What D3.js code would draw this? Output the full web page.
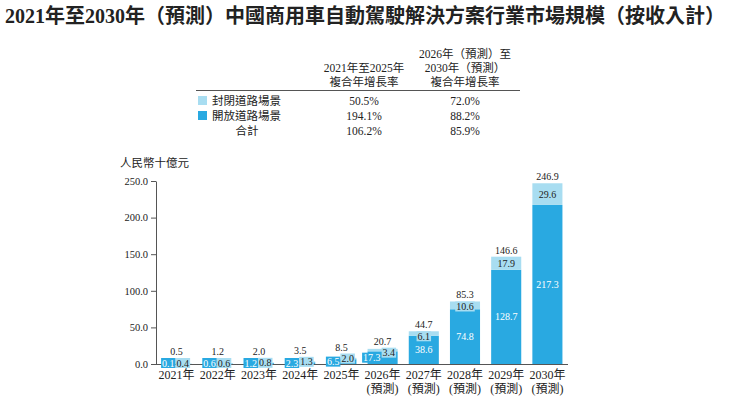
<!DOCTYPE html>
<html>
<head>
<meta charset="utf-8">
<script src="https://cdn.jsdelivr.net/npm/d3@7"></script>
<style>
  body { margin: 0; background: #fff; }
  svg text { font-family: "Liberation Serif", "Noto Sans CJK TC", serif; }
</style>
</head>
<body>
<svg id="chart" width="734" height="401"></svg>
<script>
// Chart data
const years = ["2021年", "2022年", "2023年", "2024年", "2025年", "2026年", "2027年", "2028年", "2029年", "2030年"];
const forecast = [false, false, false, false, false, true, true, true, true, true];
const openRoad = [0.1, 0.6, 1.2, 2.3, 6.5, 17.3, 38.6, 74.8, 128.7, 217.3];
const closedRoad = [0.4, 0.6, 0.8, 1.3, 2.0, 3.4, 6.1, 10.6, 17.9, 29.6];
const totals = [0.5, 1.2, 2.0, 3.5, 8.5, 20.7, 44.7, 85.3, 146.6, 246.9];
const yTicks = [0, 50, 100, 150, 200, 250];

// CAGR table
const cagrHeadA = ["2021年至2025年", "複合年增長率"];
const cagrHeadB = ["2026年（預測）至", "2030年（預測）", "複合年增長率"];
const seriesNames = ["封閉道路場景", "開放道路場景", "合計"];
const cagrA = ["50.5%", "194.1%", "106.2%"];
const cagrB = ["72.0%", "88.2%", "85.9%"];

const darkBlue = "#29a9e1";
const lightBlue = "#a8ddf1";
const axisColor = "#555";
const textColor = "#222";

const svg = d3.select("#chart");

// Title
svg.append("text")
    .attr("x", 5)
    .attr("y", 23)
    .attr("fill", textColor)
    .style("font-size", "20px")
    .style("font-weight", "bold")
    .text("2021年至2030年（預測）中國商用車自動駕駛解決方案行業市場規模（按收入計）");

// Table header
const colA = 364, colB = 465;
const table = svg.append("g").attr("fill", textColor).style("font-size", "11.5px");
cagrHeadA.forEach((t, i) => {
    table.append("text").attr("x", colA).attr("y", 72 + i * 14)
        .attr("text-anchor", "middle").text(t);
});
cagrHeadB.forEach((t, i) => {
    table.append("text").attr("x", colB).attr("y", 58 + i * 14)
        .attr("text-anchor", "middle").text(t);
});
svg.append("line")
    .attr("x1", 196).attr("x2", 520).attr("y1", 90.5).attr("y2", 90.5)
    .attr("stroke", axisColor).attr("stroke-width", 1);

// Table rows
const rowY = [105, 120, 135];
const swatch = [lightBlue, darkBlue, null];
seriesNames.forEach((name, i) => {
    if (swatch[i]) {
        table.append("rect").attr("x", 198).attr("y", rowY[i] - 9)
            .attr("width", 9).attr("height", 9).attr("fill", swatch[i]);
        table.append("text").attr("x", 212).attr("y", rowY[i]).text(name);
    } else {
        table.append("text").attr("x", 247).attr("y", rowY[i])
            .attr("text-anchor", "middle").text(name);
    }
    table.append("text").attr("x", colA).attr("y", rowY[i])
        .attr("text-anchor", "middle").text(cagrA[i]);
    table.append("text").attr("x", colB).attr("y", rowY[i])
        .attr("text-anchor", "middle").text(cagrB[i]);
});

// Scales
const x = d3.scaleBand().domain(years).range([156, 568]).paddingInner(0.27).paddingOuter(0.135);
const y = d3.scaleLinear().domain([0, 250]).range([364, 181]);

// Y axis
const yAxis = svg.append("g")
    .attr("transform", "translate(156,0)")
    .call(d3.axisLeft(y).tickValues(yTicks).tickFormat(d3.format(".1f")).tickSize(5).tickSizeOuter(0));
yAxis.select(".domain").attr("stroke", axisColor);
yAxis.selectAll(".tick line").attr("stroke", axisColor);
yAxis.selectAll(".tick text")
    .attr("fill", textColor)
    .attr("x", -8)
    .style("font-size", "10.5px")
    .style("font-family", "Liberation Serif, serif");

svg.append("text").attr("x", 120).attr("y", 167).attr("fill", textColor)
    .style("font-size", "11.5px").text("人民幣十億元");

// Bars
const data = years.map((yr, i) => ({ yr, open: openRoad[i], closed: closedRoad[i], total: totals[i], fc: forecast[i] }));

const bars = svg.append("g");
bars.selectAll(".open").data(data).join("rect")
    .attr("class", "open")
    .attr("x", d => x(d.yr)).attr("width", x.bandwidth())
    .attr("y", d => y(d.open)).attr("height", d => y(0) - y(d.open))
    .attr("fill", darkBlue);
bars.selectAll(".closed").data(data).join("rect")
    .attr("class", "closed")
    .attr("x", d => x(d.yr)).attr("width", x.bandwidth())
    .attr("y", d => y(d.open + d.closed)).attr("height", d => y(d.open) - y(d.open + d.closed))
    .attr("fill", lightBlue);

// X axis line
svg.append("line")
    .attr("x1", 152).attr("x2", 568).attr("y1", y(0) + 0.5).attr("y2", y(0) + 0.5)
    .attr("stroke", axisColor);

// Value labels
const labels = svg.append("g").style("font-size", "10px");
const fmt = d3.format(".1f");
const boxH = 10;

function boxLabel(cx, cy, txt, fill, color, anchor) {
    const t = labels.append("text").attr("y", cy + 3.5).attr("fill", color).text(txt);
    const w = t.node().getComputedTextLength() + 2;
    const x0 = anchor === "end" ? cx - w : anchor === "start" ? cx : cx - w / 2;
    t.attr("x", x0 + 1);
    labels.insert("rect", () => t.node())
        .attr("x", x0).attr("y", cy - boxH / 2).attr("width", w).attr("height", boxH)
        .attr("fill", fill);
    return cy - boxH / 2;
}

data.forEach(d => {
    const cx = x(d.yr) + x.bandwidth() / 2;
    const top = y(d.open + d.closed);
    let boxTop;
    if (d.total < 30) {
        // small bars: the two values sit side by side
        const darkCy = Math.min((y(0) + y(d.open)) / 2, 363);
        const lightCy = Math.min(Math.max((y(d.open) + top) / 2, darkCy - 5), 363);
        const a = boxLabel(cx - 1, darkCy, fmt(d.open), darkBlue, "#fff", "end");
        const b = boxLabel(cx - 1, lightCy, fmt(d.closed), lightBlue, textColor, "start");
        boxTop = Math.min(a, b);
    } else {
        const lightCy = Math.max((y(d.open) + top) / 2, top + 5);
        boxTop = boxLabel(cx, lightCy, fmt(d.closed), lightBlue, textColor, "middle");
        labels.append("text").attr("x", cx).attr("y", (y(0) + y(d.open)) / 2 + 3.5)
            .attr("text-anchor", "middle").attr("fill", "#fff").text(fmt(d.open));
    }
    labels.append("text").attr("x", cx).attr("y", Math.min(top, boxTop) - 3)
        .attr("text-anchor", "middle").attr("fill", textColor).text(fmt(d.total));
});

// X labels (narrow parentheses so neighbouring labels don't collide)
const xl = svg.append("g").attr("fill", textColor).style("font-size", "12px");
data.forEach(d => {
    const cx = x(d.yr) + x.bandwidth() / 2;
    xl.append("text").attr("x", cx).attr("y", 379).attr("text-anchor", "middle").text(d.yr);
    if (d.fc) {
        xl.append("text").attr("x", cx).attr("y", 393).attr("text-anchor", "middle").text("(預測)");
    }
});
</script>
</body>
</html>
